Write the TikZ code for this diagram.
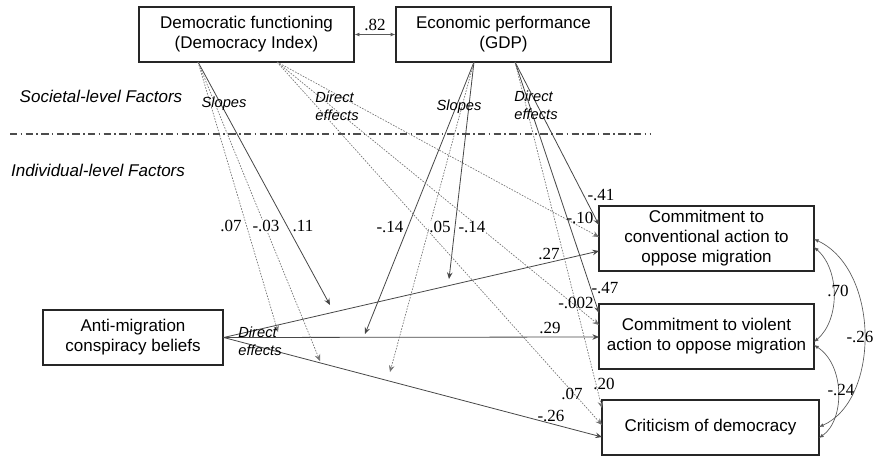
\documentclass[tikz,border=0pt]{standalone}
\usepackage{fontspec}
\setmainfont{Liberation Sans}
\newfontfamily\numfont{Liberation Serif}
\usetikzlibrary{arrows.meta,calc}
\begin{document}
\begin{tikzpicture}[x=0.75pt,y=-0.75pt,
  box/.style={draw=black!85,line width=1pt,rectangle,align=center,inner sep=0pt,font=\fontsize{12.75}{15}\selectfont},
  num/.style={font=\numfont\fontsize{12.75}{15}\selectfont,inner sep=0.5pt},
  numw/.style={num,fill=white},
  lvl/.style={font=\itshape\fontsize{12.75}{15}\selectfont,inner sep=0pt},
  eff/.style={font=\itshape\fontsize{11}{13.5}\selectfont,inner sep=0pt,align=left},
  solarrow/.style={draw=black!72,line width=0.6pt,-{Stealth[length=5pt,width=4.2pt,inset=1.8pt]}},
  dotarrow/.style={draw=black!55,line width=0.5pt,dash pattern=on 1.2pt off 1pt,-{Stealth[length=5pt,width=4.2pt,inset=1.8pt]}},
  cov/.style={draw=black!65,line width=0.5pt,{Latex[length=3.5pt,width=2.8pt]}-{Latex[length=3.5pt,width=2.8pt]}},
  levelline/.style={draw=black!70,line width=1pt,dash pattern=on 5.5pt off 2.5pt on 1.2pt off 2.5pt},
]
\useasboundingbox (0,0) rectangle (886,457);

% boxes
\node[box,minimum width=161.25pt,minimum height=41.25pt] (dem) at (246.5,34.5) {Democratic functioning\\(Democracy Index)};
\node[box,minimum width=161.25pt,minimum height=41.25pt] (eco) at (503.5,34.5) {Economic performance\\(GDP)};
\node[box,minimum width=135pt,minimum height=41.25pt] (anti) at (133,337.5) {Anti-migration\\conspiracy beliefs};
\node[box,minimum width=161.25pt,minimum height=48.75pt] (conv) at (706.5,238.5) {Commitment to\\conventional action to\\oppose migration};
\node[box,minimum width=161.25pt,minimum height=48.75pt] (viol) at (706.5,336.5) {Commitment to violent\\action to oppose migration};
\node[box,minimum width=162.75pt,minimum height=41.25pt] (crit) at (710.5,427.5) {Criticism of democracy};

% level separator and labels
\coordinate (sepL) at (10,134);
\coordinate (sepR) at (650,134);
\draw[levelline] (sepL) -- (sepR);
\node[lvl] (soc) at (101,96) {Societal-level Factors};
\node[lvl] (ind) at (98,170) {Individual-level Factors};

% anchor coordinates
\coordinate (demS) at (198,62);
\coordinate (demD) at (277,62);
\coordinate (ecoS) at (474,62);
\coordinate (ecoD) at (515,62);

\coordinate (conv1) at (599,251);
\coordinate (viol1) at (599,337);
\coordinate (crit1) at (602,437);
\coordinate (conv2) at (599,225);
\coordinate (conv3) at (599,237);
\coordinate (viol2) at (599,313);
\coordinate (viol3) at (599,325);
\coordinate (crit2) at (602,408);
\coordinate (crit3) at (602,425);

\coordinate (mC) at (330,305);
\coordinate (mA) at (278,332);
\coordinate (mB) at (320,361);
\coordinate (mE1) at (365,334);
\coordinate (mE2) at (390,372);
\coordinate (mE3) at (449,279);

% main effects
\draw[solarrow] (anti.east) -- (conv1);
\draw[solarrow] (anti.east) -- (viol1);
\draw[solarrow] (anti.east) -- (crit1);

% slopes
\draw[solarrow] (demS) -- (mC);
\draw[dotarrow] (demS) -- (mA);
\draw[dotarrow] (demS) -- (mB);
\draw[solarrow] (ecoS) -- (mE1);
\draw[dotarrow] (ecoS) -- (mE2);
\draw[solarrow] (ecoS) -- (mE3);

% direct effects
\draw[dotarrow] (demD) -- (conv3);
\draw[dotarrow] (demD) -- (viol3);
\draw[dotarrow] (demD) -- (crit3);
\draw[solarrow] (ecoD) -- (conv2);
\draw[solarrow] (ecoD) -- (viol2);
\draw[dotarrow] (ecoD) -- (crit2);

% covariances
\draw[cov] (dem.east) -- (eco.west);
\coordinate (cR1) at (814,239);
\coordinate (cR2) at (814,247);
\coordinate (vR1) at (814,342);
\coordinate (vR2) at (814,345);
\coordinate (kR1) at (819,427);
\coordinate (kR2) at (819,438);
\draw[cov] (cR1) .. controls (880,270) and (880,400) .. (kR1);
\draw[cov] (cR2) .. controls (840,270) and (840,320) .. (vR1);
\draw[cov] (vR2) .. controls (845,365) and (845,420) .. (kR2);

% italic labels
\node[eff] (sl1) at (224,104) {Slopes};
\node[eff] (sl2) at (459,107) {Slopes};
\node[eff] (de1) at (337,106) {Direct\\effects};
\node[eff] (de2) at (536,105) {Direct\\effects};
\node[eff] (de3) at (260,341) {Direct\\effects};

% numeric labels
\node[num] (l82) at (375,25) {.82};
\node[numw] (l07s) at (231,226) {.07};
\node[numw] (l03s) at (266,226) {-.03};
\node[numw] (l11s) at (303,226) {.11};
\node[numw] (l14a) at (390,227) {-.14};
\node[numw] (l05s) at (440,227) {.05};
\node[numw] (l14b) at (472,227) {-.14};
\node[num] (l27) at (549,254) {.27};
\node[num] (l29) at (550,328) {.29};
\node[num] (l26a) at (551,416) {-.26};
\node[num] (l41) at (601,195) {-.41};
\node[num] (l10) at (580,218) {-.10};
\node[num] (l47) at (605,288) {-.47};
\node[num] (l002) at (576,303) {-.002};
\node[num] (l20) at (604,384) {.20};
\node[num] (l07d) at (572,394) {.07};
\node[num] (l70) at (838,291) {.70};
\node[num] (l26b) at (860,337) {-.26};
\node[num] (l24) at (841,390) {-.24};
\end{tikzpicture}
\end{document}
